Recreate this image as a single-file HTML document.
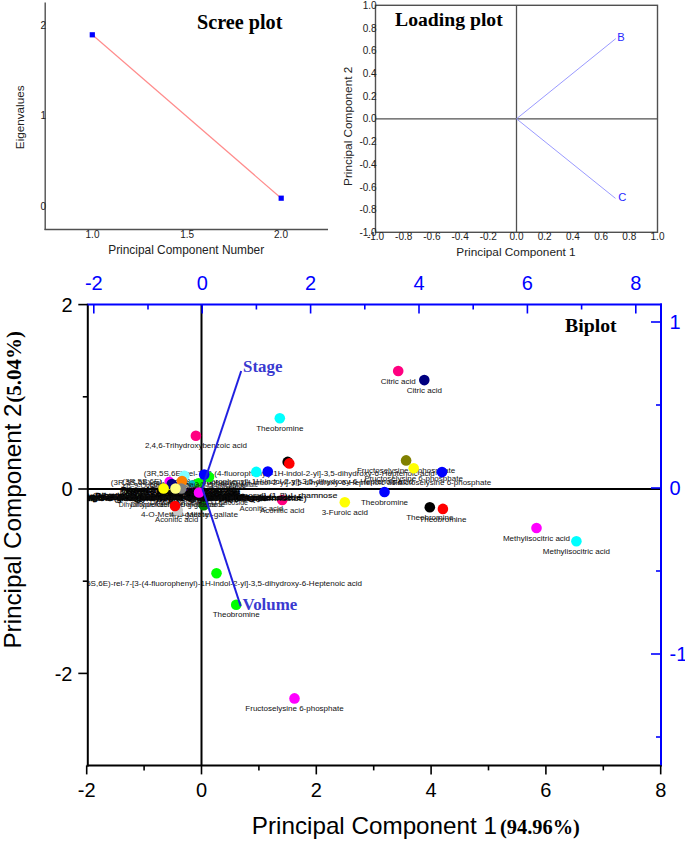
<!DOCTYPE html>
<html><head><meta charset="utf-8"><style>
html,body{margin:0;padding:0;background:#fff;overflow:hidden;width:685px;height:843px;}
svg{display:block;}
</style></head><body>
<svg width="685" height="843" viewBox="0 0 685 843">
<rect width="685" height="843" fill="#fff"/>
<line x1="45.20" y1="2.50" x2="45.20" y2="230.10" stroke="#505050" stroke-width="1.4"/>
<line x1="44.50" y1="229.50" x2="328.00" y2="229.50" stroke="#505050" stroke-width="1.4"/>
<text x="46.00" y="28.60" font-size="10" text-anchor="end" fill="#222" font-family="Liberation Sans" font-weight="normal" >2</text>
<text x="46.00" y="119.40" font-size="10" text-anchor="end" fill="#222" font-family="Liberation Sans" font-weight="normal" >1</text>
<text x="46.00" y="210.10" font-size="10" text-anchor="end" fill="#222" font-family="Liberation Sans" font-weight="normal" >0</text>
<text x="92.50" y="238.20" font-size="10" text-anchor="middle" fill="#222" font-family="Liberation Sans" font-weight="normal" >1.0</text>
<text x="187.20" y="238.20" font-size="10" text-anchor="middle" fill="#222" font-family="Liberation Sans" font-weight="normal" >1.5</text>
<text x="281.00" y="238.20" font-size="10" text-anchor="middle" fill="#222" font-family="Liberation Sans" font-weight="normal" >2.0</text>
<text x="186.20" y="254.20" font-size="11.9" text-anchor="middle" fill="#222" font-family="Liberation Sans" font-weight="normal" >Principal Component Number</text>
<text x="24.20" y="117.30" font-size="11.7" text-anchor="middle" fill="#222" font-family="Liberation Sans" font-weight="normal" transform="rotate(-90 24.2 117.3)">Eigenvalues</text>
<line x1="92.30" y1="34.80" x2="281.20" y2="198.20" stroke="#ff8c8c" stroke-width="1.2"/>
<rect x="89.70" y="32.20" width="5.2" height="5.2" fill="#0000ff"/>
<rect x="278.60" y="195.60" width="5.2" height="5.2" fill="#0000ff"/>
<text x="197.00" y="28.60" font-size="20.2" text-anchor="start" fill="#000" font-family="Liberation Serif" font-weight="bold" >Scree plot</text>
<rect x="375.5" y="5.3" width="282.0" height="227.0" fill="none" stroke="#505050" stroke-width="1.4"/>
<line x1="516.50" y1="5.30" x2="516.50" y2="232.30" stroke="#505050" stroke-width="1.3"/>
<line x1="375.50" y1="118.80" x2="657.50" y2="118.80" stroke="#505050" stroke-width="1.3"/>
<text x="376.70" y="8.90" font-size="10" text-anchor="end" fill="#222" font-family="Liberation Sans" font-weight="normal" >1.0</text>
<text x="376.70" y="31.60" font-size="10" text-anchor="end" fill="#222" font-family="Liberation Sans" font-weight="normal" >0.8</text>
<text x="376.70" y="54.30" font-size="10" text-anchor="end" fill="#222" font-family="Liberation Sans" font-weight="normal" >0.6</text>
<text x="376.70" y="77.00" font-size="10" text-anchor="end" fill="#222" font-family="Liberation Sans" font-weight="normal" >0.4</text>
<text x="376.70" y="99.70" font-size="10" text-anchor="end" fill="#222" font-family="Liberation Sans" font-weight="normal" >0.2</text>
<text x="376.70" y="122.40" font-size="10" text-anchor="end" fill="#222" font-family="Liberation Sans" font-weight="normal" >0.0</text>
<text x="376.70" y="145.10" font-size="10" text-anchor="end" fill="#222" font-family="Liberation Sans" font-weight="normal" >-0.2</text>
<text x="376.70" y="167.80" font-size="10" text-anchor="end" fill="#222" font-family="Liberation Sans" font-weight="normal" >-0.4</text>
<text x="376.70" y="190.50" font-size="10" text-anchor="end" fill="#222" font-family="Liberation Sans" font-weight="normal" >-0.6</text>
<text x="376.70" y="213.20" font-size="10" text-anchor="end" fill="#222" font-family="Liberation Sans" font-weight="normal" >-0.8</text>
<text x="376.70" y="235.90" font-size="10" text-anchor="end" fill="#222" font-family="Liberation Sans" font-weight="normal" >-1.0</text>
<text x="375.50" y="240.30" font-size="10" text-anchor="middle" fill="#222" font-family="Liberation Sans" font-weight="normal" >-1.0</text>
<text x="403.70" y="240.30" font-size="10" text-anchor="middle" fill="#222" font-family="Liberation Sans" font-weight="normal" >-0.8</text>
<text x="431.90" y="240.30" font-size="10" text-anchor="middle" fill="#222" font-family="Liberation Sans" font-weight="normal" >-0.6</text>
<text x="460.10" y="240.30" font-size="10" text-anchor="middle" fill="#222" font-family="Liberation Sans" font-weight="normal" >-0.4</text>
<text x="488.30" y="240.30" font-size="10" text-anchor="middle" fill="#222" font-family="Liberation Sans" font-weight="normal" >-0.2</text>
<text x="516.50" y="240.30" font-size="10" text-anchor="middle" fill="#222" font-family="Liberation Sans" font-weight="normal" >0.0</text>
<text x="544.70" y="240.30" font-size="10" text-anchor="middle" fill="#222" font-family="Liberation Sans" font-weight="normal" >0.2</text>
<text x="572.90" y="240.30" font-size="10" text-anchor="middle" fill="#222" font-family="Liberation Sans" font-weight="normal" >0.4</text>
<text x="601.10" y="240.30" font-size="10" text-anchor="middle" fill="#222" font-family="Liberation Sans" font-weight="normal" >0.6</text>
<text x="629.30" y="240.30" font-size="10" text-anchor="middle" fill="#222" font-family="Liberation Sans" font-weight="normal" >0.8</text>
<text x="657.50" y="240.30" font-size="10" text-anchor="middle" fill="#222" font-family="Liberation Sans" font-weight="normal" >1.0</text>
<text x="516.00" y="256.30" font-size="11.8" text-anchor="middle" fill="#222" font-family="Liberation Sans" font-weight="normal" >Principal Component 1</text>
<text x="352.00" y="126.30" font-size="11.8" text-anchor="middle" fill="#222" font-family="Liberation Sans" font-weight="normal" transform="rotate(-90 352.0 126.3)">Principal Component 2</text>
<line x1="516.50" y1="118.80" x2="615.80" y2="38.60" stroke="#9a9aff" stroke-width="1.0"/>
<line x1="516.50" y1="118.80" x2="615.50" y2="198.40" stroke="#9a9aff" stroke-width="1.0"/>
<text x="617.30" y="40.60" font-size="11.2" text-anchor="start" fill="#2828ff" font-family="Liberation Sans" font-weight="normal" >B</text>
<text x="618.30" y="201.20" font-size="11.2" text-anchor="start" fill="#2828ff" font-family="Liberation Sans" font-weight="normal" >C</text>
<text x="395.00" y="26.20" font-size="19.7" text-anchor="start" fill="#000" font-family="Liberation Serif" font-weight="bold" >Loading plot</text>
<clipPath id="cp"><rect x="87.8" y="304.5" width="573.2" height="460.9"/></clipPath>
<line x1="87.80" y1="489.00" x2="661.00" y2="489.00" stroke="#000" stroke-width="2"/>
<line x1="201.50" y1="304.50" x2="201.50" y2="765.40" stroke="#000" stroke-width="2"/>
<g clip-path="url(#cp)">
<text x="398.2" y="383.6" font-size="8" text-anchor="middle" fill="#111" font-family="Liberation Sans">Citric acid</text>
<text x="424.3" y="392.7" font-size="8" text-anchor="middle" fill="#111" font-family="Liberation Sans">Citric acid</text>
<text x="279.8" y="430.9" font-size="8" text-anchor="middle" fill="#111" font-family="Liberation Sans">Theobromine</text>
<text x="195.9" y="448.4" font-size="8" text-anchor="middle" fill="#111" font-family="Liberation Sans">2,4,6-Trihydroxybenzoic acid</text>
<text x="406.1" y="473.0" font-size="8" text-anchor="middle" fill="#111" font-family="Liberation Sans">Fructoselysine 6-phosphate</text>
<text x="413.7" y="480.9" font-size="8" text-anchor="middle" fill="#111" font-family="Liberation Sans">Fructoselysine 6-phosphate</text>
<text x="442.0" y="484.7" font-size="8" text-anchor="middle" fill="#111" font-family="Liberation Sans">Fructoselysine 6-phosphate</text>
<text x="384.5" y="504.6" font-size="8" text-anchor="middle" fill="#111" font-family="Liberation Sans">Theobromine</text>
<text x="344.8" y="514.8" font-size="8" text-anchor="middle" fill="#111" font-family="Liberation Sans">3-Furoic acid</text>
<text x="429.8" y="519.8" font-size="8" text-anchor="middle" fill="#111" font-family="Liberation Sans">Theobromine</text>
<text x="442.9" y="521.5" font-size="8" text-anchor="middle" fill="#111" font-family="Liberation Sans">Theobromine</text>
<text x="536.5" y="540.6" font-size="8" text-anchor="middle" fill="#111" font-family="Liberation Sans">Methylisocitric acid</text>
<text x="576.4" y="553.9" font-size="8" text-anchor="middle" fill="#111" font-family="Liberation Sans">Methylisocitric acid</text>
<text x="294.5" y="711.0" font-size="8" text-anchor="middle" fill="#111" font-family="Liberation Sans">Fructoselysine 6-phosphate</text>
<text x="216.5" y="585.9" font-size="8.04" text-anchor="middle" fill="#111" font-family="Liberation Sans">(3R,5S,6E)-rel-7-[3-(4-fluorophenyl)-1H-indol-2-yl]-3,5-dihydroxy-6-Heptenoic acid</text>
<text x="236.2" y="617.4" font-size="8" text-anchor="middle" fill="#111" font-family="Liberation Sans">Theobromine</text>
<text x="289.3" y="476.0" font-size="8.04" text-anchor="middle" fill="#111" font-family="Liberation Sans">(3R,5S,6E)-rel-7-[3-(4-fluorophenyl)-1H-indol-2-yl]-3,5-dihydroxy-6-Heptenoic acid</text>
<text x="256.3" y="484.5" font-size="8.04" text-anchor="middle" fill="#111" font-family="Liberation Sans">(3R,5S,6E)-rel-7-[3-(4-fluorophenyl)-1H-indol-2-yl]-3,5-dihydroxy-6-Heptenoic acid</text>
<text x="267.8" y="484.2" font-size="8.04" text-anchor="middle" fill="#111" font-family="Liberation Sans">(3R,5S,6E)-rel-7-[3-(4-fluorophenyl)-1H-indol-2-yl]-3,5-dihydroxy-6-Heptenoic acid</text>
<circle cx="198.5" cy="483.3" r="5.3" fill="#00ff00"/>
<circle cx="203.8" cy="505.2" r="5.3" fill="#008000"/>
<circle cx="177.7" cy="495.0" r="5.3" fill="#c00000"/>
<circle cx="168.0" cy="494.0" r="5.3" fill="#ffff00"/>
<circle cx="190.0" cy="492.9" r="5.3" fill="#400080"/>
<circle cx="191.8" cy="483.8" r="3.5" fill="#00c0c0"/>
<circle cx="282.2" cy="500.0" r="5.3" fill="#ff0080"/>
<text x="123.0" y="488.4" font-size="8" textLength="123.0" lengthAdjust="spacingAndGlyphs" fill="#1a1a1a" font-family="Liberation Sans">cis-9-Octadecenoic acid 3-O-glucoside</text>
<text x="150.0" y="487.2" font-size="8" textLength="108.0" lengthAdjust="spacingAndGlyphs" fill="#1a1a1a" font-family="Liberation Sans">Epigallocatechin 3-O-(3-O-methyl)gallate</text>
<text x="124.0" y="493.6" font-size="8" textLength="116.0" lengthAdjust="spacingAndGlyphs" fill="#1a1a1a" stroke="#000" stroke-width="0.5" font-family="Liberation Sans">Quercetin 3-O-(6-O-malonyl)-glucoside-7-O-glucoside</text>
<text x="120.0" y="494.1" font-size="8" textLength="99.0" lengthAdjust="spacingAndGlyphs" fill="#1a1a1a" stroke="#000" stroke-width="0.5" font-family="Liberation Sans">Isorhamnetin 3-O-glucoside-7-O-rhamnoside</text>
<text x="157.0" y="495.9" font-size="8" textLength="83.0" lengthAdjust="spacingAndGlyphs" fill="#1a1a1a" stroke="#000" stroke-width="0.5" font-family="Liberation Sans">Epicatechin-(4b-8)-catechin gallate</text>
<text x="121.0" y="492.1" font-size="8" textLength="117.0" lengthAdjust="spacingAndGlyphs" fill="#1a1a1a" stroke="#000" stroke-width="0.5" font-family="Liberation Sans">Procyanidin B2 3-O-gallate glucoside</text>
<text x="126.0" y="495.1" font-size="8" textLength="110.0" lengthAdjust="spacingAndGlyphs" fill="#1a1a1a" stroke="#000" stroke-width="0.5" font-family="Liberation Sans">Kaempferol 3-O-sophoroside-7-O-glucoside</text>
<text x="7.5" y="498.3" font-size="8" textLength="329.8" lengthAdjust="spacingAndGlyphs" fill="#1a1a1a" stroke="#000" stroke-width="0.15" font-family="Liberation Sans">Kaempferol 3-O-[6-O-(3-hydroxy-3-methylglutaryl)-glucopyranosyl]-(1-2)-L-rhamnose</text>
<text x="55.7" y="500.7" font-size="8" textLength="251.0" lengthAdjust="spacingAndGlyphs" fill="#1a1a1a" stroke="#000" stroke-width="0.15" font-family="Liberation Sans">Myricetin 3-O-(6-O-galloyl)-glucopyranosyl-7-O-(rhamnoside)</text>
<text x="60.0" y="501.1" font-size="8" textLength="207.0" lengthAdjust="spacingAndGlyphs" fill="#1a1a1a" stroke="#000" stroke-width="0.4" font-family="Liberation Sans">Quercetin 3-O-glucopyranosyl-(1-6)-galactopyranoside</text>
<text x="80.0" y="499.5" font-size="8" textLength="191.0" lengthAdjust="spacingAndGlyphs" fill="#1a1a1a" stroke="#000" stroke-width="0.4" font-family="Liberation Sans">Apigenin 6-C-glucosyl-8-C-arabinoside glucoside</text>
<text x="70.0" y="498.9" font-size="8" textLength="180.0" lengthAdjust="spacingAndGlyphs" fill="#1a1a1a" stroke="#000" stroke-width="0.4" font-family="Liberation Sans">Luteolin 7-O-glucuronide-3-O-glucoside</text>
<text x="40.0" y="500.1" font-size="8" textLength="202.0" lengthAdjust="spacingAndGlyphs" fill="#1a1a1a" stroke="#000" stroke-width="0.4" font-family="Liberation Sans">Dihydrokaempferol 3-O-rhamnoside-7-O-glucoside</text>
<text x="95.0" y="497.9" font-size="8" textLength="150.0" lengthAdjust="spacingAndGlyphs" fill="#1a1a1a" stroke="#000" stroke-width="0.4" font-family="Liberation Sans">Dihydrokaempferol 3-O-rhamnoside</text>
<text x="62.0" y="500.3" font-size="8" textLength="230.0" lengthAdjust="spacingAndGlyphs" fill="#1a1a1a" stroke="#000" stroke-width="0.35" font-family="Liberation Sans">Quercetin 3-O-(2-O-galloyl)-glucopyranosyl-(1-6)-galactoside</text>
<text x="84.0" y="499.5" font-size="8" textLength="218.0" lengthAdjust="spacingAndGlyphs" fill="#1a1a1a" stroke="#000" stroke-width="0.3" font-family="Liberation Sans">Myricetin 3-O-rhamnosyl-(1-6)-glucopyranoside</text>
<text x="150.0" y="505.1" font-size="8" textLength="98.0" lengthAdjust="spacingAndGlyphs" fill="#1a1a1a" font-family="Liberation Sans">Dihydromyricetin-3-O-glucoside</text>
<text x="118.7" y="506.7" font-size="8" textLength="98.6" lengthAdjust="spacingAndGlyphs" fill="#1a1a1a" font-family="Liberation Sans">Dihydroquercetin-3-O-glucoside</text>
<text x="130.6" y="507.4" font-size="8" textLength="94.2" lengthAdjust="spacingAndGlyphs" fill="#1a1a1a" font-family="Liberation Sans">Dihydrokaempferol-glucoside</text>
<text x="170.0" y="517.2" font-size="8" textLength="68.0" lengthAdjust="spacingAndGlyphs" fill="#1a1a1a" font-family="Liberation Sans">4-O-Methyl-gallate</text>
<text x="141.0" y="517.4" font-size="8" textLength="68.0" lengthAdjust="spacingAndGlyphs" fill="#1a1a1a" font-family="Liberation Sans">4-O-Methyl-gallate</text>
<text x="155.0" y="521.7" font-size="8" textLength="43.3" lengthAdjust="spacingAndGlyphs" fill="#1a1a1a" font-family="Liberation Sans">Aconitic acid</text>
<text x="239.5" y="510.5" font-size="8" textLength="43.5" lengthAdjust="spacingAndGlyphs" fill="#1a1a1a" font-family="Liberation Sans">Aconitic acid</text>
<text x="260.0" y="512.8" font-size="8" textLength="44.4" lengthAdjust="spacingAndGlyphs" fill="#1a1a1a" font-family="Liberation Sans">Aconitic acid</text>
<circle cx="398.2" cy="371.0" r="5.3" fill="#ff0080"/>
<circle cx="424.3" cy="380.1" r="5.3" fill="#000080"/>
<circle cx="279.8" cy="418.3" r="5.3" fill="#00ffff"/>
<circle cx="195.9" cy="435.8" r="5.3" fill="#ff0080"/>
<circle cx="406.1" cy="460.4" r="5.3" fill="#808000"/>
<circle cx="413.7" cy="468.3" r="5.3" fill="#ffff00"/>
<circle cx="442.0" cy="472.1" r="5.3" fill="#0000ff"/>
<circle cx="384.5" cy="492.0" r="5.3" fill="#0000ff"/>
<circle cx="344.8" cy="502.2" r="5.3" fill="#ffff00"/>
<circle cx="429.8" cy="507.2" r="5.3" fill="#000000"/>
<circle cx="442.9" cy="508.9" r="5.3" fill="#ff0000"/>
<circle cx="536.5" cy="528.0" r="5.3" fill="#ff00ff"/>
<circle cx="576.4" cy="541.3" r="5.3" fill="#00ffff"/>
<circle cx="294.5" cy="698.4" r="5.3" fill="#ff00ff"/>
<circle cx="216.5" cy="573.3" r="5.3" fill="#00ff00"/>
<circle cx="236.2" cy="604.8" r="5.3" fill="#00ff00"/>
<circle cx="287.7" cy="461.9" r="5.3" fill="#000000"/>
<circle cx="289.3" cy="463.4" r="5.3" fill="#ff0000"/>
<circle cx="256.3" cy="471.9" r="5.3" fill="#00ffff"/>
<circle cx="267.8" cy="471.6" r="5.3" fill="#0000ff"/>
<circle cx="209.0" cy="477.0" r="5.3" fill="#00ff00"/>
<circle cx="204.2" cy="474.6" r="5.3" fill="#0000ff"/>
<circle cx="184.4" cy="475.8" r="5.3" fill="#80ffff"/>
<circle cx="169.3" cy="481.5" r="4.8" fill="#ff00ff"/>
<circle cx="171.8" cy="484.0" r="5.3" fill="#000080"/>
<circle cx="182.0" cy="481.0" r="5.3" fill="#ff8000"/>
<circle cx="163.6" cy="488.5" r="5.3" fill="#ffff00"/>
<circle cx="181.2" cy="488.5" r="5.3" fill="#808080"/>
<circle cx="175.5" cy="488.5" r="5.3" fill="#ffff80"/>
<circle cx="199.0" cy="492.5" r="5.3" fill="#ff00ff"/>
<circle cx="177.7" cy="510.4" r="5.3" fill="#c8c8c8"/>
<circle cx="175.0" cy="506.0" r="5.3" fill="#ff0000"/>
<line x1="202.2" y1="488.0" x2="241.2" y2="371.0" stroke="#1f1fe0" stroke-width="2"/>
<line x1="202.2" y1="488.0" x2="240.7" y2="606.3" stroke="#1f1fe0" stroke-width="2"/>
</g>
<line x1="87.80" y1="304.50" x2="87.80" y2="766.40" stroke="#000" stroke-width="2"/>
<line x1="86.80" y1="765.40" x2="662.00" y2="765.40" stroke="#000" stroke-width="2"/>
<line x1="86.80" y1="304.50" x2="662.00" y2="304.50" stroke="#0000ff" stroke-width="2"/>
<line x1="661.00" y1="303.50" x2="661.00" y2="765.40" stroke="#0000ff" stroke-width="2"/>
<line x1="86.70" y1="765.40" x2="86.70" y2="774.40" stroke="#000" stroke-width="1.6"/>
<text x="86.70" y="796.50" font-size="20" text-anchor="middle" fill="#000" font-family="Liberation Sans" font-weight="normal" >-2</text>
<line x1="144.10" y1="765.40" x2="144.10" y2="770.40" stroke="#000" stroke-width="1.6"/>
<line x1="201.50" y1="765.40" x2="201.50" y2="774.40" stroke="#000" stroke-width="1.6"/>
<text x="201.50" y="796.50" font-size="20" text-anchor="middle" fill="#000" font-family="Liberation Sans" font-weight="normal" >0</text>
<line x1="258.90" y1="765.40" x2="258.90" y2="770.40" stroke="#000" stroke-width="1.6"/>
<line x1="316.30" y1="765.40" x2="316.30" y2="774.40" stroke="#000" stroke-width="1.6"/>
<text x="316.30" y="796.50" font-size="20" text-anchor="middle" fill="#000" font-family="Liberation Sans" font-weight="normal" >2</text>
<line x1="373.70" y1="765.40" x2="373.70" y2="770.40" stroke="#000" stroke-width="1.6"/>
<line x1="431.10" y1="765.40" x2="431.10" y2="774.40" stroke="#000" stroke-width="1.6"/>
<text x="431.10" y="796.50" font-size="20" text-anchor="middle" fill="#000" font-family="Liberation Sans" font-weight="normal" >4</text>
<line x1="488.50" y1="765.40" x2="488.50" y2="770.40" stroke="#000" stroke-width="1.6"/>
<line x1="545.90" y1="765.40" x2="545.90" y2="774.40" stroke="#000" stroke-width="1.6"/>
<text x="545.90" y="796.50" font-size="20" text-anchor="middle" fill="#000" font-family="Liberation Sans" font-weight="normal" >6</text>
<line x1="603.30" y1="765.40" x2="603.30" y2="770.40" stroke="#000" stroke-width="1.6"/>
<line x1="660.70" y1="765.40" x2="660.70" y2="774.40" stroke="#000" stroke-width="1.6"/>
<text x="660.70" y="796.50" font-size="20" text-anchor="middle" fill="#000" font-family="Liberation Sans" font-weight="normal" >8</text>
<line x1="87.80" y1="304.60" x2="78.30" y2="304.60" stroke="#000" stroke-width="1.6"/>
<text x="72.50" y="311.70" font-size="20" text-anchor="end" fill="#000" font-family="Liberation Sans" font-weight="normal" >2</text>
<line x1="87.80" y1="396.80" x2="82.80" y2="396.80" stroke="#000" stroke-width="1.6"/>
<line x1="87.80" y1="489.00" x2="78.30" y2="489.00" stroke="#000" stroke-width="1.6"/>
<text x="72.50" y="496.10" font-size="20" text-anchor="end" fill="#000" font-family="Liberation Sans" font-weight="normal" >0</text>
<line x1="87.80" y1="581.20" x2="82.80" y2="581.20" stroke="#000" stroke-width="1.6"/>
<line x1="87.80" y1="673.40" x2="78.30" y2="673.40" stroke="#000" stroke-width="1.6"/>
<text x="72.50" y="680.50" font-size="20" text-anchor="end" fill="#000" font-family="Liberation Sans" font-weight="normal" >-2</text>
<line x1="93.80" y1="304.50" x2="93.80" y2="313.50" stroke="#0000ff" stroke-width="1.6"/>
<text x="93.80" y="289.90" font-size="20" text-anchor="middle" fill="#0000ff" font-family="Liberation Sans" font-weight="normal" >-2</text>
<line x1="148.00" y1="304.50" x2="148.00" y2="309.50" stroke="#0000ff" stroke-width="1.6"/>
<line x1="202.20" y1="304.50" x2="202.20" y2="313.50" stroke="#0000ff" stroke-width="1.6"/>
<text x="202.20" y="289.90" font-size="20" text-anchor="middle" fill="#0000ff" font-family="Liberation Sans" font-weight="normal" >0</text>
<line x1="256.40" y1="304.50" x2="256.40" y2="309.50" stroke="#0000ff" stroke-width="1.6"/>
<line x1="310.60" y1="304.50" x2="310.60" y2="313.50" stroke="#0000ff" stroke-width="1.6"/>
<text x="310.60" y="289.90" font-size="20" text-anchor="middle" fill="#0000ff" font-family="Liberation Sans" font-weight="normal" >2</text>
<line x1="364.80" y1="304.50" x2="364.80" y2="309.50" stroke="#0000ff" stroke-width="1.6"/>
<line x1="419.00" y1="304.50" x2="419.00" y2="313.50" stroke="#0000ff" stroke-width="1.6"/>
<text x="419.00" y="289.90" font-size="20" text-anchor="middle" fill="#0000ff" font-family="Liberation Sans" font-weight="normal" >4</text>
<line x1="473.20" y1="304.50" x2="473.20" y2="309.50" stroke="#0000ff" stroke-width="1.6"/>
<line x1="527.40" y1="304.50" x2="527.40" y2="313.50" stroke="#0000ff" stroke-width="1.6"/>
<text x="527.40" y="289.90" font-size="20" text-anchor="middle" fill="#0000ff" font-family="Liberation Sans" font-weight="normal" >6</text>
<line x1="581.60" y1="304.50" x2="581.60" y2="309.50" stroke="#0000ff" stroke-width="1.6"/>
<line x1="635.80" y1="304.50" x2="635.80" y2="313.50" stroke="#0000ff" stroke-width="1.6"/>
<text x="635.80" y="289.90" font-size="20" text-anchor="middle" fill="#0000ff" font-family="Liberation Sans" font-weight="normal" >8</text>
<line x1="661.00" y1="322.00" x2="651.00" y2="322.00" stroke="#0000ff" stroke-width="1.6"/>
<text x="669.50" y="329.10" font-size="20" text-anchor="start" fill="#0000ff" font-family="Liberation Sans" font-weight="normal" >1</text>
<line x1="661.00" y1="405.00" x2="656.00" y2="405.00" stroke="#0000ff" stroke-width="1.6"/>
<line x1="661.00" y1="488.00" x2="651.00" y2="488.00" stroke="#0000ff" stroke-width="1.6"/>
<text x="669.50" y="495.10" font-size="20" text-anchor="start" fill="#0000ff" font-family="Liberation Sans" font-weight="normal" >0</text>
<line x1="661.00" y1="571.00" x2="656.00" y2="571.00" stroke="#0000ff" stroke-width="1.6"/>
<line x1="661.00" y1="654.00" x2="651.00" y2="654.00" stroke="#0000ff" stroke-width="1.6"/>
<text x="669.50" y="661.10" font-size="20" text-anchor="start" fill="#0000ff" font-family="Liberation Sans" font-weight="normal" >-1</text>
<line x1="661.00" y1="737.00" x2="656.00" y2="737.00" stroke="#0000ff" stroke-width="1.6"/>
<text x="243.00" y="371.50" font-size="16.9" text-anchor="start" fill="#3a3ad0" font-family="Liberation Serif" font-weight="bold" >Stage</text>
<text x="242.50" y="610.00" font-size="16.9" text-anchor="start" fill="#3a3ad0" font-family="Liberation Serif" font-weight="bold" >Volume</text>
<text x="565.00" y="331.60" font-size="19.8" text-anchor="start" fill="#000" font-family="Liberation Serif" font-weight="bold" >Biplot</text>
<text x="251.8" y="833.9" font-family="Liberation Sans" font-size="23.2" textLength="245.2" lengthAdjust="spacingAndGlyphs" fill="#000">Principal Component 1</text>
<text x="500.0" y="833.9" font-family="Liberation Serif" font-weight="bold" font-size="20.4" fill="#000">(94.96%)</text>
<text x="0" y="0" transform="translate(21.0 648.6) rotate(-90)" font-family="Liberation Sans" font-size="23.4" textLength="245.2" lengthAdjust="spacingAndGlyphs" fill="#000">Principal Component 2</text>
<text x="0" y="0" transform="translate(20.8 402.8) rotate(-90)" font-family="Liberation Serif" font-weight="bold" font-size="21.0" fill="#000">(5.04%)</text>
</svg>
</body></html>
